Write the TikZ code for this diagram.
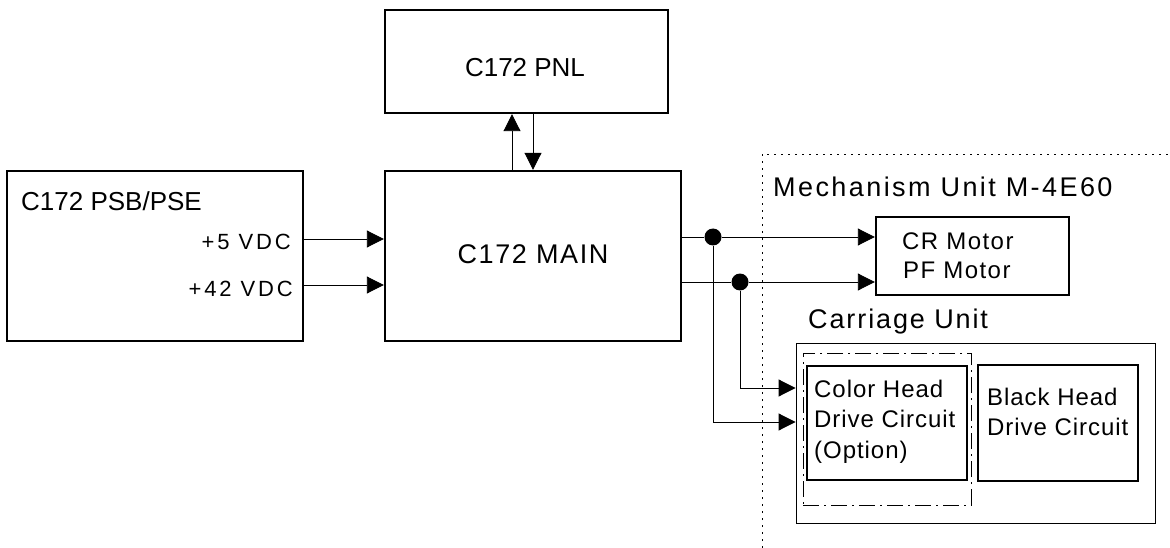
\documentclass[tikz,border=0pt]{standalone}
\usepackage{fontspec}
\setmainfont{Liberation Sans}
\usetikzlibrary{arrows.meta}
\newcommand{\lsf}[2]{\fontsize{#1}{#1}\selectfont\addfontfeature{LetterSpace=#2}}
\begin{document}
\begin{tikzpicture}[x=1pt,y=-1pt,
  box/.style={draw, line width=2.4pt, rectangle, inner sep=0pt},
  thinbox/.style={draw, line width=0.9pt, rectangle, inner sep=0pt},
  optbox/.style={draw, line width=0.8pt, rectangle, inner sep=0pt, dash pattern=on 16pt off 5pt on 2pt off 5pt},
  wire/.style={line width=0.9pt},
  arr/.style={wire, -{Triangle[length=17pt,width=17pt]}},
  lbl/.style={inner sep=0pt},
  dot/.style={circle, fill=black, inner sep=0pt, minimum size=17pt},
  bound/.style={line width=0.9pt, dash pattern=on 2pt off 5pt}
]
\useasboundingbox (0,0) rectangle (1170,548);

% boxes
\node[box, minimum width=296pt, minimum height=170pt] (psb) at (155,256) {};
\node[box, minimum width=296pt, minimum height=170pt] (main) at (533,256) {};
\node[box, minimum width=283pt, minimum height=103pt] (pnl) at (526.5,61.5) {};
\node[box, minimum width=193pt, minimum height=78pt] (motor) at (972.5,256) {};
\node[thinbox, minimum width=359pt, minimum height=180pt] (carriage) at (975.5,433) {};
\node[optbox, minimum width=168pt, minimum height=152pt] (opt) at (887,429) {};
\node[box, minimum width=160pt, minimum height=114pt] (color) at (887,423) {};
\node[box, minimum width=160pt, minimum height=116pt] (black) at (1058,423) {};

% texts
\node[lbl, anchor=base west] (tpsb) at (21,211) {\lsf{26}{0}C172 PSB/PSE};
\node[lbl, anchor=base east] (t5) at (291,250) {\lsf{22}{13}+5 VDC};
\node[lbl, anchor=base east] (t42) at (293,296) {\lsf{22}{13}+42 VDC};
\node[lbl, anchor=base] (tmain) at (533,263) {\lsf{27}{6}C172 MAIN};
\node[lbl, anchor=base] (tpnl) at (525,77) {\lsf{26}{0}C172 PNL};
\node[lbl, anchor=base west] (tmech) at (773,197) {\lsf{27}{9}Mechanism Unit M-4E60};
\node[lbl, anchor=base west] (tcar) at (808,328) {\lsf{27}{7}Carriage Unit};
\node[lbl, anchor=base west] (tcr) at (902,250) {\lsf{24}{6}CR Motor};
\node[lbl, anchor=base west] (tpf) at (903,278) {\lsf{24}{6}PF Motor};
\node[lbl, anchor=base west] (tc1) at (814,397) {\lsf{24}{4}Color Head};
\node[lbl, anchor=base west] (tc2) at (814,427) {\lsf{24}{4}Drive Circuit};
\node[lbl, anchor=base west] (tc3) at (814,458) {\lsf{24}{4}(Option)};
\node[lbl, anchor=base west] (tb1) at (987,405) {\lsf{24}{4}Black Head};
\node[lbl, anchor=base west] (tb2) at (987,435) {\lsf{24}{4}Drive Circuit};

% boundary of mechanism unit
\coordinate (bb) at (762,548);
\coordinate (bc) at (762,154);
\coordinate (br) at (1170,154);
\draw[bound] (bb) -- (bc) -- (br);

% power lines
\draw[arr] (psb.east |- 0,239) -- (main.west |- 0,239);
\draw[arr] (psb.east |- 0,285) -- (main.west |- 0,285);

% panel
\draw[arr] (main.north -| 512,0) -- (pnl.south -| 512,0);
\draw[arr] (pnl.south -| 533,0) -- (main.north -| 533,0);

% outputs
\node[dot] (d1) at (713,237) {};
\node[dot] (d2) at (740,282) {};
\draw[wire] (main.east |- d1) -- (d1);
\draw[arr] (d1) -- (motor.west |- d1);
\draw[wire] (main.east |- d2) -- (d2);
\draw[arr] (d2) -- (motor.west |- d2);
\coordinate (c1) at (713,422);
\coordinate (c2) at (740,388);
\draw[arr] (d1) -- (c1) -- (carriage.west |- c1);
\draw[arr] (d2) -- (c2) -- (carriage.west |- c2);
\end{tikzpicture}
\end{document}
